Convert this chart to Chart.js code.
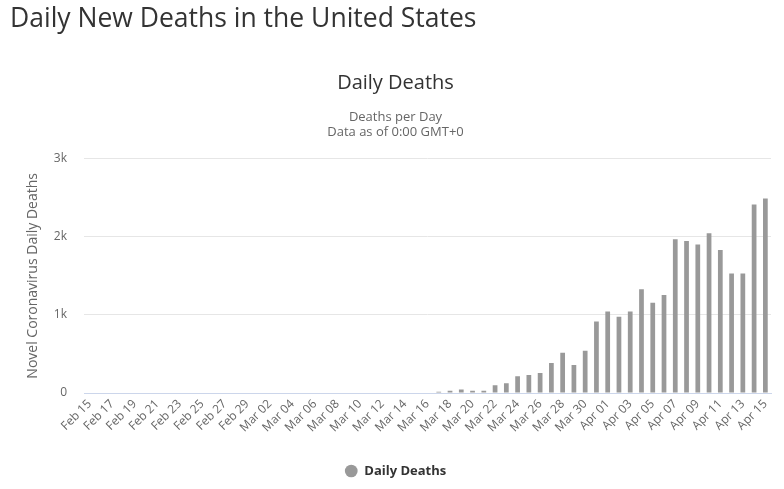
<!DOCTYPE html>
<html lang="en">
<head>
    <meta charset="UTF-8">
    <title>Daily New Deaths in the United States</title>
    <script src="https://cdn.jsdelivr.net/npm/chart.js"></script>
    <style>
        body { margin: 0; background: #fff; overflow: hidden; font-family: 'Open Sans', sans-serif; }
        h1 {
            position: absolute; left: 10px; top: 4px; margin: 0;
            font-size: 26.5px; line-height: 1; font-weight: 400; color: #333;
        }
        #wrap { width: 784px; height: 489px; }
    </style>
</head>
<body>
    <h1>Daily New Deaths in the United States</h1>
    <div id="wrap"><canvas id="deathsChart"></canvas></div>

    <script>
        // days shown on the x axis
        const dates = [
            'Feb 15', 'Feb 16', 'Feb 17', 'Feb 18', 'Feb 19', 'Feb 20', 'Feb 21', 'Feb 22',
            'Feb 23', 'Feb 24', 'Feb 25', 'Feb 26', 'Feb 27', 'Feb 28', 'Feb 29',
            'Mar 01', 'Mar 02', 'Mar 03', 'Mar 04', 'Mar 05', 'Mar 06', 'Mar 07', 'Mar 08',
            'Mar 09', 'Mar 10', 'Mar 11', 'Mar 12', 'Mar 13', 'Mar 14', 'Mar 15', 'Mar 16',
            'Mar 17', 'Mar 18', 'Mar 19', 'Mar 20', 'Mar 21', 'Mar 22', 'Mar 23', 'Mar 24',
            'Mar 25', 'Mar 26', 'Mar 27', 'Mar 28', 'Mar 29', 'Mar 30', 'Mar 31',
            'Apr 01', 'Apr 02', 'Apr 03', 'Apr 04', 'Apr 05', 'Apr 06', 'Apr 07', 'Apr 08',
            'Apr 09', 'Apr 10', 'Apr 11', 'Apr 12', 'Apr 13', 'Apr 14', 'Apr 15'
        ];

        // deaths per day (too small to see before Mar 17)
        const dailyDeaths = [
            0, 0, 0, 0, 0, 0, 0, 0,
            0, 0, 0, 0, 0, 0, 0,
            0, 0, 0, 0, 0, 0, 0, 0,
            0, 0, 0, 0, 0, 0, 0, 0,
            15, 30, 45, 30, 30, 100, 125, 215,
            230, 255, 385, 515, 360, 540, 915,
            1045, 975, 1045, 1330, 1155, 1255, 1970, 1945,
            1900, 2045, 1830, 1530, 1530, 2415, 2490
        ];

        const yTicks = [0, 1000, 2000, 3000];
        const yTickLabels = ['0', '1k', '2k', '3k'];

        Chart.defaults.font.family = "'Open Sans', sans-serif";
        Chart.defaults.color = '#666';

        const ctx = document.getElementById('deathsChart').getContext('2d');

        window.myChart = new Chart(ctx, {
            type: 'bar',
            data: {
                labels: dates,
                datasets: [
                    {
                        label: 'Daily Deaths',
                        data: dailyDeaths,
                        backgroundColor: '#999999',
                        borderWidth: 0,
                        barPercentage: 0.42,
                        categoryPercentage: 1
                    }
                ]
            },
            options: {
                responsive: true,
                maintainAspectRatio: false,
                animation: false,
                layout: {
                    padding: { top: 10, left: 20, right: 13, bottom: 1.5 }
                },
                plugins: {
                    title: {
                        display: true,
                        text: 'Daily Deaths',
                        color: '#333',
                        font: { size: 20, weight: 'normal', lineHeight: 1.2 },
                        padding: { top: 61, bottom: 14.5 }
                    },
                    subtitle: {
                        display: true,
                        text: ['Deaths per Day', 'Data as of 0:00 GMT+0'],
                        color: '#666',
                        font: { size: 13, lineHeight: 15 / 13 },
                        padding: { top: 0, bottom: 19.2 }
                    },
                    legend: {
                        position: 'bottom',
                        labels: {
                            usePointStyle: true,
                            pointStyle: 'circle',
                            boxHeight: 9,
                            padding: 10,
                            color: '#333',
                            font: { size: 13, weight: 'bold' }
                        }
                    },
                    tooltip: { enabled: false }
                },
                scales: {
                    x: {
                        grid: { display: false, drawTicks: false },
                        border: { display: true, color: '#ccd6eb' },
                        ticks: {
                            autoSkip: false,
                            minRotation: 45,
                            maxRotation: 45,
                            padding: 4,
                            font: { size: 12 },
                            callback: (value, index) => index % 2 === 0 ? dates[index] : ''
                        },
                        afterFit: (scale) => { scale.height = 61.5; }
                    },
                    y: {
                        min: 0,
                        max: 3000,
                        afterBuildTicks: (scale) => {
                            scale.ticks = yTicks.map(v => ({ value: v }));
                        },
                        grid: { color: '#e6e6e6', drawTicks: false },
                        border: { display: false },
                        ticks: {
                            padding: 17,
                            font: { size: 12 },
                            callback: (value) => yTickLabels[yTicks.indexOf(value)]
                        },
                        title: {
                            display: true,
                            text: 'Novel Coronavirus Daily Deaths',
                            color: '#666',
                            font: { size: 14, lineHeight: 1.2 },
                            padding: { top: 4.6, bottom: 0 }
                        },
                        afterFit: (scale) => { scale.width = 64; }
                    }
                }
            }
        });
    </script>
</body>
</html>
